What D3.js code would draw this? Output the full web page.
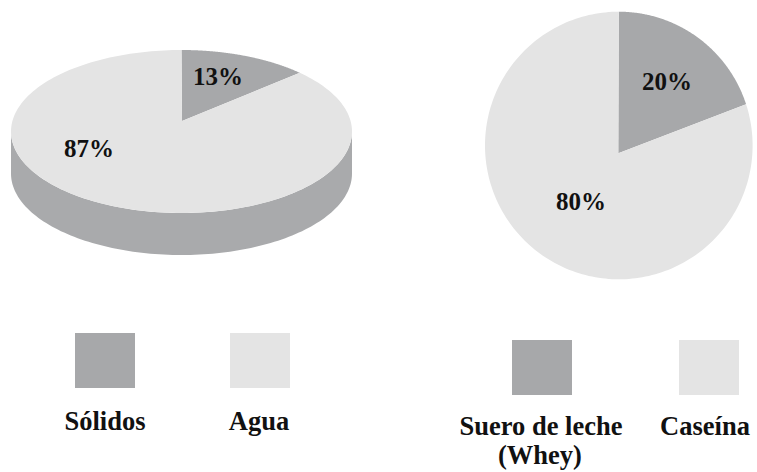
<!DOCTYPE html>
<html>
<head>
<meta charset="utf-8">
<script src="https://cdn.jsdelivr.net/npm/d3@7"></script>
<style>
  html, body { margin: 0; padding: 0; background: #fff; }
  svg { display: block; }
</style>
</head>
<body>
<svg id="chart" width="757" height="472"></svg>
<script>
// ---- data ----
const milkCategories = ["Sólidos", "Agua"];
const milkValues = [13, 87];
const proteinCategories = ["Suero de leche\n(Whey)", "Caseína"];
const proteinValues = [20, 80];
const sliceColors = ["#a7a8aa", "#e4e4e4"];
const sideColor = "#a9aaac";

const FONT = "'Liberation Serif', 'DejaVu Serif', 'Times New Roman', Times, serif";
const svg = d3.select("#chart");

function rimPoint(cfg, theta) {
  const k = cfg.k;
  const u = Math.sin(theta), v = -Math.cos(theta);
  const w = 1 + k * v;
  const X = u / w, Y = v / w;
  const a = 1 / Math.sqrt(1 - k * k), b = 1 / (1 - k * k), Yc = -k / (1 - k * k);
  const px = X / a, py = (Y - Yc) / b;
  return [cfg.cx + cfg.rx * px, cfg.cy + cfg.ry * py];
}

function drawPie(cfg, values, categories) {
  const g = svg.append("g");
  const pie = d3.pie().sort(null).value(d => d)(values);

  if (cfg.depth > 0) {
    const p = d3.path();
    const steps = 120;
    p.moveTo(cfg.cx - cfg.rx, cfg.cy);
    for (let i = 0; i <= steps; i++) {
      const t = Math.PI - (i / steps) * Math.PI;
      p.lineTo(cfg.cx + cfg.rx * Math.cos(t), cfg.cy + cfg.depth + cfg.ry * Math.sin(t));
    }
    p.lineTo(cfg.cx + cfg.rx, cfg.cy);
    for (let i = 0; i <= steps; i++) {
      const t = (i / steps) * Math.PI;
      p.lineTo(cfg.cx + cfg.rx * Math.cos(t), cfg.cy + cfg.ry * Math.sin(t));
    }
    p.closePath();
    g.append("path").attr("d", p.toString()).attr("fill", sideColor);
  }

  pie.forEach((s, i) => {
    const p = d3.path();
    p.moveTo(cfg.vx, cfg.vy);
    const steps = 200;
    for (let j = 0; j <= steps; j++) {
      const th = s.startAngle + (s.endAngle - s.startAngle) * j / steps;
      const pt = rimPoint(cfg, th);
      p.lineTo(pt[0], pt[1]);
    }
    p.closePath();
    g.append("path").attr("d", p.toString()).attr("fill", sliceColors[i]);
  });

  pie.forEach((s, i) => {
    g.append("text")
      .attr("x", cfg.labels[i][0]).attr("y", cfg.labels[i][1])
      .attr("text-anchor", "middle")
      .style("font-family", FONT).style("font-weight", "bold")
      .style("font-size", "25px").attr("fill", "#111")
      .text(values[i] + "%");
  });

  categories.forEach((c, i) => {
    const L = cfg.legend[i];
    g.append("rect").attr("x", L.sx).attr("y", cfg.legendY)
      .attr("width", 60).attr("height", 55).attr("fill", sliceColors[i]);
    c.split("\n").forEach((ln, j) => {
      g.append("text")
        .attr("x", L.tx + (j > 0 ? (L.dx2 || 0) : 0))
        .attr("y", cfg.textY + j * 28.5)
        .attr("text-anchor", "middle")
        .style("font-family", FONT).style("font-weight", "bold")
        .style("font-size", "26.5px").attr("fill", "#111")
        .text(ln);
    });
  });
}

drawPie({
  cx: 181.5, cy: 131.5, rx: 170.5, ry: 81.5, vx: 182, vy: 121, k: -0.07, depth: 42,
  labels: [[218, 85], [89, 157]],
  legendY: 333, textY: 430,
  legend: [{ sx: 75, tx: 105 }, { sx: 230, tx: 259 }]
}, milkValues, milkCategories);

drawPie({
  cx: 618.8, cy: 145.5, rx: 133.8, ry: 133.8, vx: 618.3, vy: 153.3, k: 0, depth: 0,
  labels: [[667, 90], [581, 210]],
  legendY: 340, textY: 435,
  legend: [{ sx: 512, tx: 541, dx2: -1 }, { sx: 679, tx: 705 }]
}, proteinValues, proteinCategories);
</script>
</body>
</html>
